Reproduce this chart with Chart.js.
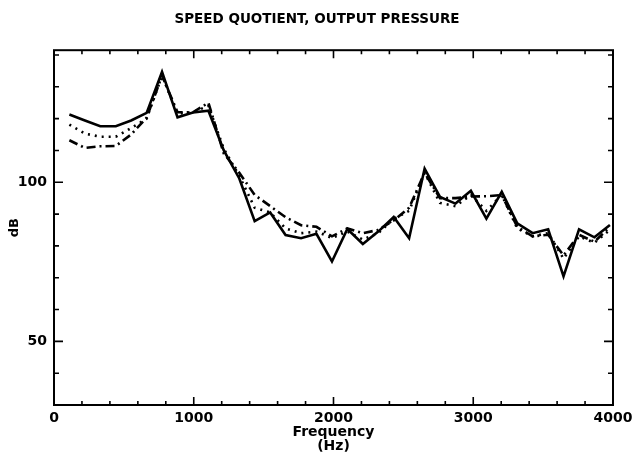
<!DOCTYPE html>
<html>
<head>
<meta charset="utf-8">
<title>Speed quotient, output pressure</title>
<script src="https://cdn.jsdelivr.net/npm/chart.js@4.4.1/dist/chart.umd.min.js"></script>
<style>
    html, body { margin: 0; padding: 0; background: #fff; }
    #wrap { width: 634px; height: 455px; }
</style>
</head>
<body>
<div id="wrap"><canvas id="chart" width="634" height="455"></canvas></div>
<script>
// Harmonic frequencies (Hz)
const freqs = [110, 221, 331, 442, 552, 663, 773, 884, 994, 1105, 1215, 1326,
    1436, 1547, 1657, 1768, 1878, 1989, 2099, 2210, 2320, 2431, 2541, 2652,
    2762, 2873, 2983, 3094, 3204, 3315, 3425, 3536, 3646, 3757, 3867, 3978];

// Output pressure (dB) for the three speed quotients
const solidDb = [121.3, 119.4, 117.6, 117.6, 119.4, 121.8, 134.7, 120.4, 121.9, 122.5, 110, 101.2,
    87.8, 90.5, 83.4, 82.4, 83.8, 75.1, 85.3, 80.6, 84.5, 89.1, 82.4, 104.3,
    95.4, 93.3, 97.3, 88.6, 97.0, 87.1, 84.0, 85.2, 70.4, 85.2, 82.7, 86.6];
const dottedDb = [118.1, 115.3, 114.3, 114.3, 117, 120, 133.5, 121.5, 122, 124, 110.5, 102,
    92, 90.5, 85.5, 84, 84.5, 82.5, 84.5, 82, 84, 88.5, 91, 103,
    93.5, 92.5, 96, 91, 96, 85.5, 83, 84, 76, 83, 81, 85];
const dashDotDb = [113.2, 110.8, 111.3, 111.4, 115, 120.3, 133.5, 122, 122, 125, 109, 103,
    96, 92.5, 89, 86.5, 86, 83, 85.5, 84, 85, 88, 92, 103,
    95, 95, 95.5, 95.6, 96, 86, 83, 83.5, 77, 83.5, 81.3, 86];

// Axis ranges and labelled ticks
const xRange = [0, 4000];
const yRange = [30, 141.5];
const xLabels = [0, 1000, 2000, 3000, 4000];
const yLabels = [50, 100];

const FONT = "'DejaVu Sans', sans-serif";

function toPoints(values) {
    return freqs.map((f, i) => ({ x: f, y: values[i] }));
}

function makeSeries(values, dash) {
    return {
        data: toPoints(values),
        showLine: true,
        borderColor: '#000',
        borderWidth: 2.6,
        borderDash: dash,
        borderCapStyle: 'butt',
        pointRadius: 0,
        tension: 0,
        fill: false
    };
}

// Frame with inward tick marks on all four sides
const framePlugin = {
    id: 'frame',
    afterDatasetsDraw(chart) {
        const { ctx, chartArea: a, scales } = chart;
        const xs = scales.x, ys = scales.y;
        ctx.save();
        ctx.strokeStyle = '#000';
        ctx.lineWidth = 2;
        ctx.strokeRect(a.left, a.top, a.right - a.left, a.bottom - a.top);
        ctx.lineWidth = 1.6;
        ctx.beginPath();
        for (let f = xRange[0]; f <= xRange[1]; f += 200) {
            const px = xs.getPixelForValue(f);
            const len = f % 1000 === 0 ? 8 : 4;
            ctx.moveTo(px, a.bottom); ctx.lineTo(px, a.bottom - len);
            ctx.moveTo(px, a.top); ctx.lineTo(px, a.top + len);
        }
        for (let v = 30; v <= 140; v += 10) {
            const py = ys.getPixelForValue(v);
            const len = v % 50 === 0 ? 9 : 5;
            ctx.moveTo(a.left, py); ctx.lineTo(a.left + len, py);
            ctx.moveTo(a.right, py); ctx.lineTo(a.right - len, py);
        }
        ctx.stroke();
        ctx.restore();
    }
};

new Chart(document.getElementById('chart'), {
    type: 'scatter',
    data: {
        datasets: [
            makeSeries(solidDb, []),
            makeSeries(dottedDb, [2, 5]),
            makeSeries(dashDotDb, [9, 4, 2, 4])
        ]
    },
    options: {
        responsive: false,
        animation: false,
        layout: { padding: 0 },
        plugins: {
            legend: { display: false },
            tooltip: { enabled: false },
            title: {
                display: true,
                text: 'SPEED QUOTIENT, OUTPUT PRESSURE',
                color: '#000',
                font: { family: FONT, size: 13.5, weight: 'bold', lineHeight: 1.2 },
                padding: { top: 11, bottom: 23 }
            }
        },
        scales: {
            x: {
                type: 'linear',
                min: xRange[0],
                max: xRange[1],
                afterFit(scale) {
                    // keep the end labels from shrinking the plot box
                    scale.height = 50;
                    scale.paddingLeft = 0;
                    scale.paddingRight = 0;
                },
                grid: { display: false, drawTicks: false },
                border: { display: false },
                ticks: {
                    stepSize: 1000,
                    autoSkip: false,
                    maxRotation: 0,
                    padding: 5,
                    color: '#000',
                    font: { family: FONT, size: 14, weight: 'bold' },
                    callback: v => xLabels.includes(v) ? String(v) : ''
                },
                title: {
                    display: true,
                    text: ['Frequency', '(Hz)'],
                    color: '#000',
                    font: { family: FONT, size: 14, weight: 'bold', lineHeight: 1.0 },
                    padding: { top: 0, bottom: 2 }
                }
            },
            y: {
                type: 'linear',
                min: yRange[0],
                max: yRange[1],
                afterFit(scale) { scale.width = 54; },
                grid: { display: false, drawTicks: false },
                border: { display: false },
                ticks: {
                    stepSize: 10,
                    autoSkip: false,
                    padding: 7,
                    color: '#000',
                    font: { family: FONT, size: 14, weight: 'bold' },
                    callback: v => yLabels.includes(v) ? String(v) : ''
                },
                title: {
                    display: true,
                    text: 'dB',
                    color: '#000',
                    font: { family: FONT, size: 13, weight: 'bold', lineHeight: 1.2 },
                    padding: { top: 7, bottom: 0 }
                }
            },
            // empty right-hand strip so the title stays centred on the page
            yRight: {
                type: 'linear',
                position: 'right',
                min: yRange[0],
                max: yRange[1],
                afterFit(scale) { scale.width = 21; },
                grid: { display: false, drawTicks: false },
                border: { display: false },
                ticks: { display: false }
            }
        }
    },
    plugins: [framePlugin]
});
</script>
</body>
</html>
